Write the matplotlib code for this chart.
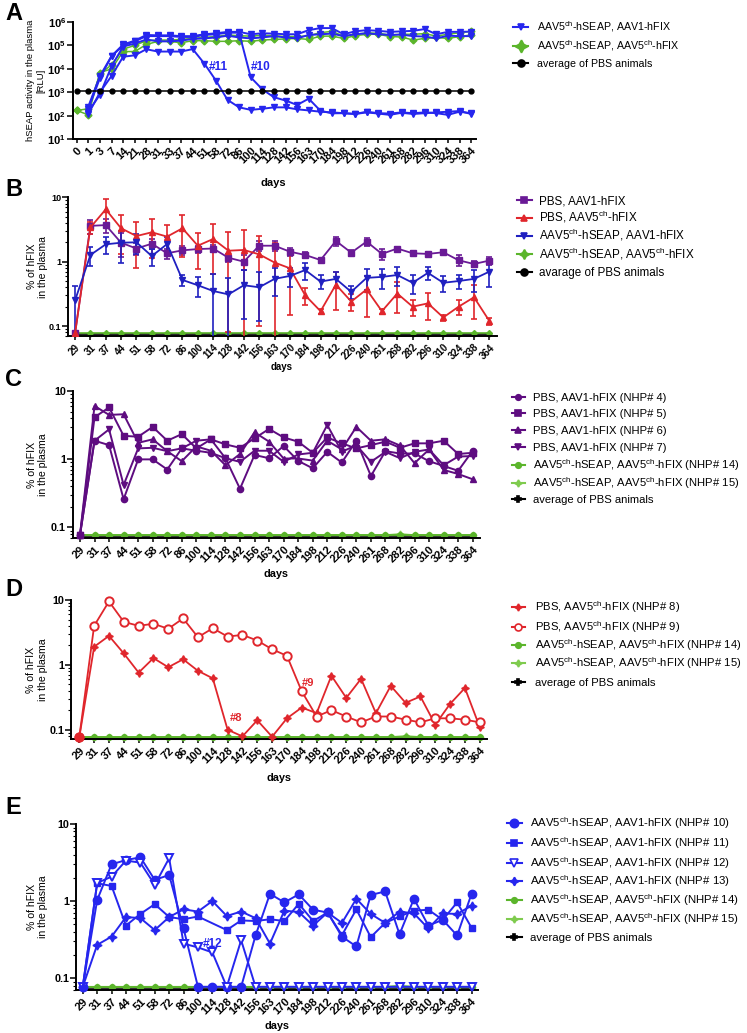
import numpy as np
import matplotlib
matplotlib.use("Agg")
import matplotlib.pyplot as plt
from matplotlib.lines import Line2D

plt.rcParams['font.family'] = ['Liberation Sans', 'DejaVu Sans']
plt.rcParams['mathtext.fontset'] = 'custom'
plt.rcParams['mathtext.rm'] = 'Liberation Sans'
plt.rcParams['mathtext.it'] = 'Liberation Sans:italic'
plt.rcParams['mathtext.bf'] = 'Liberation Sans:bold'

W, H = 747, 1033

# ---------------- data ----------------
days_a = [0, 1, 3, 7, 14, 21, 28, 31, 33, 37, 44, 51, 58, 72, 86, 100, 114, 128,
          142, 156, 163, 170, 184, 198, 212, 226, 240, 261, 268, 282, 296, 310,
          324, 338, 364]
days_f = [29, 31, 37, 44, 51, 58, 72, 86, 100, 114, 128, 142, 156, 163, 170, 184,
          198, 212, 226, 240, 261, 268, 282, 296, 310, 324, 338, 364]

# panel A: hSEAP RLU
seap_nhp10 = [np.nan, 200, 4000, 3.5e4, 1.0e5, 1.5e5, 2.5e5, 2.5e5, 2.5e5, 2.3e5, 2.3e5,
              2.8e5, 3.0e5, 3.5e5, 3.5e5, 4.4e3, 1.35e3, 620, 450, 290, 540, 166, 128,
              130, 120, 150, 130, 125, 140, 130, 140, 130, 110, 150, 130]
seap_nhp11 = [np.nan, 120, 1000, 5000, 3.3e4, 3.8e4, 6.9e4, 5.5e4, 5.5e4, 5.5e4, 7.0e4,
              1.7e4, 3.2e3, 480, 230, 180, 200, 230, 230, 190, 170, 150, 140, 130, 120,
              140, 125, 110, 135, 120, 130, 140, 150, 160, 120]
seap_nhp12 = [np.nan, 250, 5000, 3.5e4, 1.1e5, 1.6e5, 2.8e5, 2.7e5, 2.7e5, 2.5e5, 2.5e5,
              3.0e5, 3.3e5, 3.8e5, 3.8e5, 3.0e5, 3.3e5, 3.2e5, 3.0e5, 3.0e5, 4.5e5, 5.5e5,
              5.5e5, 3.0e5, 4.0e5, 4.5e5, 4.2e5, 3.8e5, 4.0e5, 4.2e5, 5.0e5, 3.0e5, 3.8e5,
              3.8e5, 3.9e5]
seap_nhp13 = [np.nan, 150, 800, 1.3e4, 9.0e4, 1.2e5, 1.8e5, 1.5e5, 1.5e5, 1.6e5, 1.9e5,
              2.0e5, 2.2e5, 2.6e5, 2.2e5, 2.0e5, 2.2e5, 2.5e5, 2.2e5, 2.0e5, 2.8e5, 3.0e5,
              3.2e5, 2.5e5, 3.0e5, 3.3e5, 3.0e5, 2.8e5, 2.9e5, 2.5e5, 2.4e5, 2.0e5, 2.6e5,
              2.5e5, 2.5e5]
seap_nhp14 = [170, 110, 7000, 1e4, 5.5e4, 5.5e4, 1.1e5, 1.5e5, 1.5e5, 1.3e5, 1.6e5, 1.6e5,
              1.5e5, 1.5e5, 1.6e5, 1.5e5, 1.7e5, 1.8e5, 1.9e5, 2.0e5, 1.8e5, 2.5e5, 2.5e5,
              2.0e5, 2.6e5, 3.0e5, 3.0e5, 2.4e5, 2.3e5, 1.7e5, 2.0e5, 2.2e5, 2.0e5, 2.4e5,
              2.8e5]
seap_nhp15 = [170, 200, 6000, 1.5e4, 7e4, 1e5, 1.6e5, 1.7e5, 1.7e5, 1.8e5, 2.0e5, 2.2e5,
              2.4e5, 2.8e5, 2.6e5, 2.5e5, 2.7e5, 2.6e5, 2.4e5, 2.4e5, 2.6e5, 3.5e5, 4.0e5,
              2.5e5, 3.0e5, 3.4e5, 3.3e5, 2.8e5, 3.0e5, 3.0e5, 3.2e5, 2.5e5, 3.0e5, 3.5e5,
              4.0e5]
seap_pbs = [1100] * len(days_a)

# panel B: group means and SD (% hFIX)
b_pbs_aav1 = [0.077, 3.6, 3.7, 1.97, 1.6, 1.9, 1.35, 1.5, 1.57, 1.6, 1.15, 1.0, 1.77, 1.77,
              1.43, 1.27, 1.06, 2.1, 1.38, 2.05, 1.32, 1.6, 1.35, 1.32, 1.4, 1.05, 0.92, 1.04]
b_pbs_aav1_sd = [0, 0.9, 0.9, 0.8, 0.35, 0.35, 0.25, 0.25, 0.2, 0.2, 0.15, 0.25, 0.3, 0.3,
                 0.2, 0.15, 0.07, 0.35, 0.15, 0.3, 0.25, 0.12, 0.1, 0.1, 0.1, 0.2, 0.1, 0.15]
b_pbs_aav5 = [0.077, 3.4, 6.5, 3.3, 2.5, 2.86, 2.45, 3.3, 1.77, 2.25, 1.48, 1.52, 1.3, 0.97,
              0.79, 0.30, 0.17, 0.44, 0.24, 0.37, 0.17, 0.32, 0.20, 0.225, 0.136, 0.20, 0.28, 0.12]
b_pbs_aav5_sd = [0, 0.7, 3.0, 2.0, 1.7, 1.7, 1.2, 2.1, 1.0, 1.6, 1.4, 1.6, 1.2, 0.95, 0.64,
                 0.09, 0.015, 0.26, 0.07, 0.23, 0.015, 0.16, 0.055, 0.1, 0.015, 0.05, 0.15, 0.015]
b_seap_aav1 = [0.25, 1.27, 1.86, 1.97, 2.0, 1.22, 1.88, 0.52, 0.43, 0.35, 0.31, 0.43, 0.40,
               0.54, 0.6, 0.74, 0.49, 0.54, 0.34, 0.56, 0.58, 0.62, 0.47, 0.67, 0.47, 0.50,
               0.54, 0.70]
b_seap_aav1_sd = [0.17, 0.4, 0.55, 1.0, 0.7, 0.35, 0.5, 0.1, 0.15, 0.3, 0.25, 0.3, 0.28, 0.25,
                  0.2, 0.22, 0.12, 0.15, 0.08, 0.2, 0.2, 0.2, 0.15, 0.15, 0.13, 0.13, 0.2, 0.3]
b_seap_aav5 = [0.078] * len(days_f)
b_pbs_avg = [0.076] * len(days_f)

# panel C: PBS, AAV1-hFIX individual animals
c_nhp4 = [0.077, 1.88, 1.62, 0.26, 1.0, 1.0, 0.71, 1.45, 1.34, 1.25, 1.04, 0.37, 1.16, 1.04,
          1.57, 0.95, 0.74, 1.29, 0.90, 1.88, 0.57, 1.32, 1.22, 1.22, 0.94, 0.80, 0.68, 1.34]
c_nhp5 = [0.077, 4.15, 5.8, 2.22, 2.15, 3.0, 1.88, 2.35, 1.45, 1.97, 1.66, 1.48, 2.04, 2.8,
          2.1, 1.82, 1.25, 2.1, 1.72, 1.45, 1.62, 1.82, 1.48, 1.72, 1.72, 1.88, 1.2, 1.25]
c_nhp6 = [0.077, 6.1, 4.5, 4.6, 1.75, 1.97, 1.32, 0.94, 1.55, 1.34, 0.82, 1.2, 2.5, 1.82,
          1.03, 1.03, 0.96, 1.88, 1.4, 3.0, 1.88, 1.97, 1.6, 0.88, 1.4, 0.70, 0.61, 0.51]
c_nhp7 = [0.077, 1.88, 2.76, 0.42, 1.45, 1.48, 1.32, 1.45, 1.88, 1.97, 1.04, 0.92, 1.34, 1.34,
          0.92, 1.18, 1.25, 3.2, 1.29, 1.62, 0.92, 1.29, 1.04, 1.29, 1.4, 0.82, 1.1, 1.12]

# panel D: PBS, AAV5ch-hFIX individual animals
d_nhp8 = [0.077, 1.9, 2.8, 1.5, 0.76, 1.27, 0.92, 1.22, 0.81, 0.62, 0.10, 0.079, 0.14, 0.078,
          0.15, 0.22, 0.18, 0.68, 0.31, 0.61, 0.18, 0.475, 0.26, 0.326, 0.12, 0.25, 0.44, 0.11]
d_nhp9 = [0.077, 4.0, 9.5, 4.6, 4.0, 4.3, 3.6, 5.2, 2.67, 3.67, 2.73, 2.9, 2.37, 1.74, 1.38,
          0.39, 0.16, 0.20, 0.16, 0.13, 0.16, 0.16, 0.143, 0.13, 0.15, 0.15, 0.143, 0.13]

# panel E: AAV5ch-hSEAP, AAV1-hFIX individual animals
e_nhp10 = [0.077, 1.03, 3.0, 3.4, 3.7, 1.88, 2.18, 0.44, 0.077, 0.077, 0.077, 0.077, 0.357,
           1.24, 0.96, 1.22, 0.77, 0.71, 0.345, 0.257, 1.2, 1.33, 0.37, 1.07, 0.48, 0.57,
           0.357, 1.24]
e_nhp11 = [0.077, 1.7, 1.57, 0.48, 0.68, 0.91, 0.62, 0.58, 0.63, np.nan, 0.42, 0.56, 0.55,
           0.58, 0.55, 0.92, 0.55, 0.71, 0.36, 0.78, 0.34, 0.52, 0.63, 0.75, 0.77, 0.57,
           0.96, 0.45]
e_nhp12 = [0.077, 1.72, 2.07, 3.35, 3.15, 1.62, 3.6, 0.28, 0.25, 0.215, 0.077, 0.31, 0.077,
           0.077, 0.077, 0.077, 0.077, 0.077, 0.077, 0.077, 0.077, 0.077, 0.077, 0.077,
           0.077, 0.077, 0.077, 0.077]
e_nhp13 = [0.077, 0.27, 0.345, 0.62, 0.6, 0.42, 0.62, 0.78, 0.73, 1.0, 0.64, 0.73, 0.6, 0.28,
           0.75, 0.72, 0.48, 0.71, 0.52, 1.07, 0.68, 0.52, 0.73, 0.69, 0.44, 0.69, 0.68, 0.87]

# AAV5ch-hSEAP, AAV5ch-hFIX animals and PBS average (C-E)
f_nhp14 = [0.077] * len(days_f)
f_nhp15 = [0.077] * 22 + [0.08] + [0.077] * 5
f_pbs_avg = [0.0745] * len(days_f)

# ---------------- style ----------------
BLUE = '#2626EE'
BLUE_B = '#2020C0'
PURPLE = '#5E0C80'
PURPLE_B = '#6A1A96'
RED = '#E0262C'
GREEN = '#5BB52B'
LGREEN = '#7FCB4E'
BLACK = '#000000'
STAR4 = (4, 1, 0)
CH = r'$^{\mathrm{ch}}$'
S_A1 = 'AAV5' + CH + '-hSEAP, AAV1-hFIX'
S_A5 = 'AAV5' + CH + '-hSEAP, AAV5' + CH + '-hFIX'
NHP = ' (NHP# %d)'

fig = plt.figure(figsize=(W / 100, H / 100), dpi=100)


def add_ax(left, top, right, bottom):
    return fig.add_axes([left / W, 1 - bottom / H, (right - left) / W, (bottom - top) / H])


def line(ax, y, clip=False, **kw):
    y = np.asarray(y, float)
    x = np.arange(len(y))
    m = ~np.isnan(y)
    ax.plot(x[m], y[m], clip_on=clip, **kw)


def style(ax, labels, xlim, xfs, yfs):
    ax.set_yscale('log')
    ax.set_xticks(range(len(labels)))
    ax.set_xticklabels([str(d) for d in labels], rotation=45, ha='right',
                       rotation_mode='anchor', fontweight='bold', fontsize=xfs)
    ax.set_xlim(*xlim)
    for s in ['top', 'right']:
        ax.spines[s].set_visible(False)
    for s in ['left', 'bottom']:
        ax.spines[s].set_linewidth(1.4)
    ax.tick_params(axis='x', length=3, width=1.1, pad=1.5)
    ax.tick_params(axis='y', which='major', length=4, width=1.1, labelsize=yfs, pad=1)
    ax.tick_params(axis='y', which='minor', length=2, width=0.8)


def hfix_y(ax, yfs, bottom=0.07):
    ax.set_ylim(bottom, 10)
    ax.set_yticks([0.1, 1, 10])
    ax.set_yticklabels(['0.1', '1', '10'], fontweight='bold', fontsize=yfs)


def labels(ax, ylab, ylx, dx, dy, yls, dfs):
    ax.set_ylabel(ylab, fontsize=yls, va='center', ha='center', linespacing=1.2)
    ax.yaxis.set_label_coords(ylx, 0.5)
    ax.set_xlabel('days', fontweight='bold', fontsize=dfs, va='center')
    ax.xaxis.set_label_coords(dx, dy)


def legend(items, texts, x0, x1, xt, ys, fs):
    for (col, mk, ms, mfc), txt, y in zip(items, texts, ys):
        yf = 1 - y / H
        fig.add_artist(Line2D([x0 / W, x1 / W], [yf, yf], color=col, lw=1.5,
                              transform=fig.transFigure))
        fig.add_artist(Line2D([(x0 + x1) / 2 / W], [yf], color=col, ls='none', marker=mk,
                              markersize=ms, markerfacecolor=mfc or col, markeredgecolor=col,
                              markeredgewidth=1.2, transform=fig.transFigure))
        yb = 1 - (y + 0.36 * fs * 100 / 72) / H
        fig.text(xt / W, yb, txt, fontsize=fs, va='baseline', ha='left')


def panel_letter(letter, y):
    fig.text(5 / W, 1 - y / H, letter, fontsize=17, fontweight='bold', va='center', ha='left')


# ---------------- A ----------------
axA = add_ax(73, 22, 476, 139.3)
for y in [seap_nhp14, seap_nhp15]:
    line(axA, y, color=GREEN, lw=1.1, marker='D', ms=3.5, zorder=2)
for y in [seap_nhp10, seap_nhp11, seap_nhp12, seap_nhp13]:
    line(axA, y, color=BLUE, lw=1.4, marker='v', ms=4.5, zorder=3)
line(axA, seap_pbs, color=BLACK, lw=1.1, marker='o', ms=3.5, zorder=4)
style(axA, days_a, (-0.32, 34.42), 8, 8)
axA.set_ylim(10, 1e6)
axA.set_yticks([1e1, 1e2, 1e3, 1e4, 1e5, 1e6])
axA.set_yticklabels([r'$\mathbf{10^{%d}}$' % k for k in range(1, 7)], fontsize=8)
axA.minorticks_off()
axA.text(12.2, 1.2e4, '#11', color=BLUE, fontweight='bold', fontsize=8.5, ha='center', va='center')
axA.text(15.9, 1.2e4, '#10', color=BLUE, fontweight='bold', fontsize=8.5, ha='center', va='center')
labels(axA, 'hSEAP activity in the plasma\n[RLU]', -0.092, 0.496, -0.373, 6.8, 8)
legend([(BLUE, 'v', 5, None), (GREEN, STAR4, 9, None), (BLACK, 'o', 5, None)],
       [S_A1, S_A5, 'average of PBS animals'],
       512.7, 528.3, 537, [26.7, 46, 62.7], 7.7)
panel_letter('A', 14)

# ---------------- B ----------------
axB = add_ax(68, 197.3, 497, 336)
x = np.arange(len(days_f))
line(axB, b_pbs_avg, color=BLACK, lw=1.2, marker='o', ms=3, zorder=1)
line(axB, b_seap_aav5, color=GREEN, lw=1.2, marker='D', ms=3, zorder=2)
for mean, sd, col, mk in [(b_pbs_aav1, b_pbs_aav1_sd, PURPLE_B, 's'),
                          (b_pbs_aav5, b_pbs_aav5_sd, RED, '^'),
                          (b_seap_aav1, b_seap_aav1_sd, BLUE_B, 'v')]:
    mean = np.asarray(mean)
    sd = np.asarray(sd)
    low = np.minimum(sd, mean - 1e-4)
    axB.errorbar(x, mean, yerr=[low, sd], color=col, lw=1.3, marker=mk, ms=4,
                 capsize=2.2, elinewidth=1.2, capthick=1.2, zorder=3)
style(axB, days_f, (-0.46, 27.5), 7, 6.5)
hfix_y(axB, 6.5)
labels(axB, '% of hFIX\nin the plasma', -0.071, 0.499, -0.2235, 7.5, 7)
legend([(PURPLE_B, 's', 5, None), (RED, '^', 5, None), (BLUE_B, 'v', 5, None),
        (GREEN, STAR4, 7, None), (BLACK, 'o', 5, None)],
       ['PBS, AAV1-hFIX', 'PBS, AAV5' + CH + '-hFIX', S_A1, S_A5, 'avarage of PBS animals'],
       516.7, 531.7, 539, [200, 217.5, 235.7, 254, 271.7], 8.4)
panel_letter('B', 190)

# ---------------- C ----------------
axC = add_ax(72.7, 391.3, 480, 538)
line(axC, f_pbs_avg, color='#333333', lw=2.2, zorder=1)
line(axC, f_nhp15, color=LGREEN, lw=1.3, marker=STAR4, ms=5, zorder=2)
line(axC, f_nhp14, color=GREEN, lw=1.3, marker='o', ms=4, zorder=2)
for y, mk in [(c_nhp4, 'o'), (c_nhp5, 's'), (c_nhp6, '^'), (c_nhp7, 'v')]:
    line(axC, y, color=PURPLE, lw=1.4, marker=mk, ms=4.5, zorder=3)
style(axC, days_f, (-0.5, 27.5), 8, 7.8)
hfix_y(axC, 7.8)
labels(axC, '% of hFIX\nin the plasma', -0.086, 0.50, -0.245, 7.6, 7.8)
legend([(PURPLE, 'o', 4, None), (PURPLE, 's', 4, None), (PURPLE, '^', 4, None),
        (PURPLE, 'v', 4, None), (GREEN, 'o', 4, None), (LGREEN, STAR4, 5, None),
        (BLACK, 'P', 4, None)],
       ['PBS, AAV1-hFIX' + NHP % 4, 'PBS, AAV1-hFIX' + NHP % 5, 'PBS, AAV1-hFIX' + NHP % 6,
        'PBS, AAV1-hFIX' + NHP % 7, S_A5 + NHP % 14, S_A5 + NHP % 15, 'average of PBS animals'],
       511.7, 525, 533, [396.7, 413.3, 430, 447.3, 465, 482.7, 499.3], 8.1)
panel_letter('C', 380)

# ---------------- D ----------------
axD = add_ax(71, 600, 486.7, 739)
line(axD, f_pbs_avg, color='#333333', lw=2.2, zorder=1)
line(axD, f_nhp15, color=LGREEN, lw=1.3, marker=STAR4, ms=5, zorder=2)
line(axD, f_nhp14, color=GREEN, lw=1.3, marker='o', ms=4, zorder=2)
line(axD, d_nhp8, color=RED, lw=1.3, marker=STAR4, ms=5.5, zorder=3)
line(axD, d_nhp9, color=RED, lw=1.3, marker='o', ms=6, mfc='white', mew=1.4, zorder=3)
axD.plot([0], [d_nhp9[0]], 'o', color=RED, ms=6, clip_on=False, zorder=4)
style(axD, days_f, (-0.56, 27.47), 8, 7.8)
hfix_y(axD, 7.8, 0.072)
axD.text(15.4, 0.53, '#9', color=RED, fontweight='bold', fontsize=8, ha='center', va='center')
axD.text(10.6, 0.153, '#8', color=RED, fontweight='bold', fontsize=8, ha='center', va='center')
labels(axD, '% of hFIX\nin the plasma', -0.082, 0.50, -0.28, 7.6, 7.8)
legend([(RED, STAR4, 5, None), (RED, 'o', 5, 'white'), (GREEN, 'o', 4, None),
        (LGREEN, STAR4, 5, None), (BLACK, 'P', 4, None)],
       ['PBS, AAV5' + CH + '-hFIX' + NHP % 8, 'PBS, AAV5' + CH + '-hFIX' + NHP % 9,
        S_A5 + NHP % 14, S_A5 + NHP % 15, 'average of PBS animals'],
       511.7, 525, 535, [606.7, 626.7, 645, 663.3, 681.7], 8.1)
panel_letter('D', 590)

# ---------------- E ----------------
axE = add_ax(76, 824, 478.3, 990)
line(axE, f_pbs_avg, color='#333333', lw=2.2, zorder=1)
line(axE, f_nhp15, color=LGREEN, lw=1.3, marker=STAR4, ms=5, zorder=2)
line(axE, f_nhp14, color=GREEN, lw=1.3, marker='o', ms=4, zorder=2)
line(axE, e_nhp10, color=BLUE, lw=1.4, marker='o', ms=6, zorder=3)
line(axE, e_nhp11, color=BLUE, lw=1.4, marker='s', ms=5, zorder=3)
line(axE, e_nhp12, color=BLUE, lw=1.4, marker='v', ms=6, mfc='white', mew=1.4, zorder=3)
line(axE, e_nhp13, color=BLUE, lw=1.4, marker=STAR4, ms=6.5, zorder=3)
style(axE, days_f, (-0.47, 27.47), 8, 7.8)
hfix_y(axE, 7.8)
axE.text(9.05, 0.279, '#12', color=BLUE, fontweight='bold', fontsize=8.5, ha='center', va='center')
labels(axE, '% of hFIX\nin the plasma', -0.096, 0.50, -0.217, 7.6, 7.8)
legend([(BLUE, 'o', 6, None), (BLUE, 's', 5, None), (BLUE, 'v', 6, 'white'),
        (BLUE, STAR4, 6, None), (GREEN, 'o', 4, None), (LGREEN, STAR4, 5, None),
        (BLACK, 'P', 4, None)],
       [S_A1 + NHP % 10, S_A1 + NHP % 11, S_A1 + NHP % 12, S_A1 + NHP % 13,
        S_A5 + NHP % 14, S_A5 + NHP % 15, 'average of PBS animals'],
       506.7, 521.7, 530, [823.3, 842.7, 862.7, 881, 900, 919, 936.7], 8.2)
panel_letter('E', 807)

fig.savefig('out.png', dpi=100)
